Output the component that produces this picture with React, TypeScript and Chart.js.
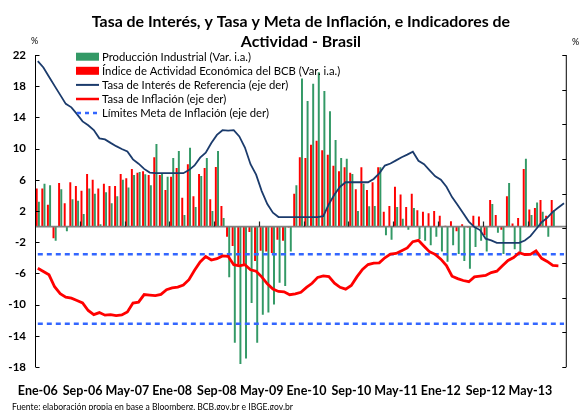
import { useEffect, useRef } from "react";
import { Chart, registerables } from "chart.js";

Chart.register(...registerables);

// ---------- data ----------
const MESES = ["Ene", "Feb", "Mar", "Abr", "May", "Jun", "Jul", "Ago", "Sep", "Oct", "Nov", "Dic"];
const ANIOS = ["06", "07", "08", "09", "10", "11", "12", "13"];
// Ene-06 ... Nov-13 (95 months)
const CATEGORIAS: string[] = ANIOS.flatMap((a) => MESES.map((m) => `${m}-${a}`)).slice(0, 95);

const ETIQUETAS_X = ["Ene-06", "Sep-06", "May-07", "Ene-08", "Sep-08", "May-09", "Ene-10", "Sep-10", "May-11", "Ene-12", "Sep-12", "May-13"];

const TITULO = ["Tasa de Interés, y Tasa y Meta de Inflación, e Indicadores de", "Actividad - Brasil"];
const FUENTE = "Fuente: elaboración propia en base a Bloomberg, BCB.gov.br e IBGE.gov.br";

const LEYENDA = [
  "Producción Industrial (Var. i.a.)",
  "Índice de Actividad Económica del BCB (Var. i.a.)",
  "Tasa de Interés de Referencia (eje der)",
  "Tasa de Inflación (eje der)",
  "Límites Meta de Inflación (eje der)",
];

// Producción Industrial, var. i.a. (%), left axis
const PRODUCCION_INDUSTRIAL: (number | null)[] = [
  3.2, 5.5, 5.3, -1.8, 4.8, -0.6, 3.5, 3.3, 1.6, 4.9, 4.2, 0.3,
  4.4, 3.0, 3.9, 6.0, 5.0, 6.6, 7.0, 6.7, 5.3, 10.6, 6.75, 6.4,
  8.8, 9.7, 1.5, 10.1, 2.5, 6.5, 8.8, 2.0, 9.7, 1.1, -6.5, -14.9,
  -17.6, -16.9, -9.8, -14.9, -11.3, -11.0, -10.0, -7.2, -7.6, -3.2, 5.3, 19.0,
  16.1, 18.3, 19.8, 17.4, 14.8, 11.1, 8.8, 8.7, 6.75, 2.0, 5.5, 2.6,
  2.65, 7.6, -1.1, -1.7, 2.5, 1.0, -0.4, 2.4, -1.6, -1.8, -2.4, -1.3,
  -3.2, -4.5, -2.4, -3.5, -4.4, -5.4, -2.6, -1.8, -3.2, 2.9, -0.8, -3.5,
  5.6, -2.9, -3.3, 8.7, 1.5, 3.1, 1.9, -1.3, 2.1, null, null,
];

// IBC-Br, var. i.a. (%), left axis
const IBC_BR: (number | null)[] = [
  4.9, 4.9, 2.8, -1.5, 5.6, 3.0, 5.7, 5.2, 4.6, 6.75, 6.0, 4.9,
  5.5, 5.2, 5.2, 6.75, 6.2, 7.4, 6.9, 7.1, 6.6, 8.9, 6.6, 4.7,
  6.4, 7.5, 3.7, 8.0, 3.9, 6.75, 7.5, 3.5, 7.65, 2.65, -1.3, -2.5,
  -4.9, -4.8, -0.7, -4.4, -3.1, -3.2, -3.4, -1.7, -1.8, -0.1, 4.2, 8.9,
  8.8, 10.5, 11.0, 9.8, 9.2, 7.8, 7.1, 7.6, 6.9, 4.8, 7.6, 4.7,
  5.7, 7.6, 1.9, 2.65, 5.1, 4.1, 2.5, 4.2, 2.1, 1.9, 1.7, 2.0,
  1.4, 0.1, 0.7, -0.6, 0.3, -0.1, 1.4, 1.3, -1.1, 3.4, 1.5, -0.4,
  3.9, 0.4, 1.1, 7.4, 2.2, 2.4, 3.4, 1.4, 3.4, null, null,
];

// Tasa Selic (%), right axis
const TASA_SELIC: (number | null)[] = [
  17.65, 17.28, 16.75, 16.22, 15.7, 15.18, 14.98, 14.59, 14.17, 13.95, 13.67, 13.19,
  13.13, 12.93, 12.74, 12.58, 12.43, 11.98, 11.73, 11.43, 11.22, 11.18, 11.18, 11.18,
  11.18, 11.18, 11.18, 11.36, 11.63, 12.08, 12.36, 12.92, 13.39, 13.66, 13.64, 13.66,
  13.3, 12.66, 11.7, 11.1, 10.15, 9.4, 8.9, 8.65, 8.65, 8.65, 8.65, 8.65,
  8.65, 8.65, 8.65, 8.7, 9.4, 9.95, 10.4, 10.66, 10.66, 10.66, 10.66, 10.66,
  10.85, 11.17, 11.62, 11.74, 11.92, 12.1, 12.25, 12.42, 11.9, 11.7, 11.35, 11.0,
  10.8, 10.4, 9.8, 9.35, 8.87, 8.39, 8.07, 7.9, 7.4, 7.3, 7.16, 7.16,
  7.16, 7.16, 7.16, 7.3, 7.55, 7.95, 8.35, 8.6, 8.95, 9.2, 9.45,
];

// IPCA var. 12 meses (%), right axis
const INFLACION_IPCA: (number | null)[] = [
  5.7, 5.51, 5.32, 4.63, 4.23, 4.03, 3.97, 3.84, 3.7, 3.26, 3.02, 3.14,
  2.99, 3.02, 2.96, 3.0, 3.18, 3.69, 3.74, 4.18, 4.15, 4.12, 4.19, 4.46,
  4.56, 4.61, 4.73, 5.04, 5.58, 6.06, 6.37, 6.17, 6.25, 6.41, 6.39, 5.9,
  5.84, 5.9, 5.61, 5.53, 5.2, 4.8, 4.5, 4.36, 4.34, 4.17, 4.22, 4.31,
  4.59, 4.83, 5.17, 5.26, 5.22, 4.84, 4.6, 4.49, 4.7, 5.2, 5.63, 5.91,
  5.99, 6.01, 6.3, 6.51, 6.55, 6.71, 6.87, 7.23, 7.31, 6.97, 6.64, 6.5,
  6.22, 5.85, 5.24, 5.1, 4.99, 4.92, 5.2, 5.24, 5.28, 5.45, 5.53, 5.84,
  6.15, 6.31, 6.59, 6.49, 6.5, 6.7, 6.27, 6.09, 5.86, 5.84, null,
];

const META_SUPERIOR = 6.5;
const META_INFERIOR = 2.5;

const EJE_IZQ = { min: -18, max: 22, paso: 4 };
const EJE_DER = { min: 0, max: 18, paso: 2 };

// ---------- styles ----------
const VERDE = "#339966";
const ROJO = "#ff0000";
const AZUL_OSCURO = "#1b3b6c";
const AZUL_META = "#3366ff";
const FONT = "Lato";

const decor = {
  id: "decor",
  afterDatasetDraw(chart: any, args: any) {
    if (args.index !== 1) return;
    const { ctx, chartArea } = chart;
    const y0 = chart.scales.y.getPixelForValue(0);
    ctx.save();
    ctx.strokeStyle = "#808080";
    ctx.lineWidth = 1.7;
    ctx.beginPath();
    ctx.moveTo(chartArea.left, y0);
    ctx.lineTo(chartArea.right, y0);
    ctx.stroke();
    ctx.restore();
  },
  afterDraw(chart: any) {
    const { ctx, chartArea } = chart;
    const ys = chart.scales.y;
    const ys2 = chart.scales.y2;
    const xs = chart.scales.x;
    const L = chartArea.left + 0.5;
    const R = chartArea.right - 0.5;
    ctx.save();
    // axis lines
    ctx.strokeStyle = "#000";
    ctx.lineWidth = 1;
    ctx.beginPath();
    ctx.moveTo(L, chartArea.top);
    ctx.lineTo(L, chartArea.bottom);
    ctx.moveTo(R, chartArea.top);
    ctx.lineTo(R, chartArea.bottom);
    ctx.stroke();
    // inward ticks
    ctx.beginPath();
    ys.ticks.forEach((t: any) => {
      const y = Math.round(ys.getPixelForValue(t.value)) + 0.5;
      ctx.moveTo(L, y);
      ctx.lineTo(L + 4, y);
    });
    ys2.ticks.forEach((t: any) => {
      const y = Math.round(ys2.getPixelForValue(t.value)) + 0.5;
      ctx.moveTo(R, y);
      ctx.lineTo(R - 4, y);
    });
    ctx.stroke();
    // category tick marks at zero line
    const y0 = ys.getPixelForValue(0);
    const half = (xs.getPixelForValue(1) - xs.getPixelForValue(0)) / 2;
    ctx.strokeStyle = "#222";
    ctx.lineWidth = 1.2;
    ctx.beginPath();
    CATEGORIAS.forEach((c, i) => {
      if (i > 0 && ETIQUETAS_X.includes(c)) {
        const x = Math.round(xs.getPixelForValue(i) - half) + 0.5;
        ctx.moveTo(x, y0);
        ctx.lineTo(x, y0 - 5);
      }
    });
    ctx.stroke();

    // title
    ctx.fillStyle = "#000";
    ctx.textAlign = "center";
    ctx.textBaseline = "alphabetic";
    ctx.font = `bold 15.9px ${FONT}`;
    const cx = (chartArea.left + chartArea.right) / 2;
    ctx.fillText(TITULO[0], cx, 26.5);
    ctx.fillText(TITULO[1], cx, 46.5);

    // % labels
    ctx.font = `9px ${FONT}`;
    ctx.fillText("%", 34.5, 44);
    ctx.fillText("%", 575.5, 45);

    // footnote
    ctx.textAlign = "left";
    ctx.font = `8.6px ${FONT}`;
    ctx.fillText(FUENTE, 12, 410);

    // legend
    const lx = 76;
    const lw = 23;
    const y0l = 56.7;
    const dy = 14.1;
    ctx.font = `11.3px ${FONT}`;
    ctx.textBaseline = "middle";
    LEYENDA.forEach((txt, i) => {
      const y = y0l + i * dy;
      if (i === 0 || i === 1) {
        ctx.fillStyle = i === 0 ? VERDE : ROJO;
        ctx.fillRect(lx, y - 4, lw, 8);
      } else {
        ctx.strokeStyle = i === 2 ? AZUL_OSCURO : i === 3 ? ROJO : AZUL_META;
        ctx.lineWidth = i === 2 ? 2 : 2.5;
        ctx.setLineDash(i === 4 ? [4, 4] : []);
        ctx.beginPath();
        ctx.moveTo(lx + (i === 4 ? 1 : 0), y);
        ctx.lineTo(lx + lw, y);
        ctx.stroke();
        ctx.setLineDash([]);
      }
      ctx.fillStyle = "#000";
      ctx.fillText(txt, lx + lw + 3, y + 0.5);
    });
    ctx.restore();
  },
};

export default function App() {
  const ref = useRef<HTMLCanvasElement | null>(null);
  useEffect(() => {
    if (!ref.current) return;
    const first = CATEGORIAS[0];
    const last = CATEGORIAS[CATEGORIAS.length - 1];
    const chart = new Chart(ref.current, {
      type: "bar",
      data: {
        labels: CATEGORIAS,
        datasets: [
          {
            type: "bar",
            label: LEYENDA[0],
            data: PRODUCCION_INDUSTRIAL,
            backgroundColor: VERDE,
            borderWidth: 0,
            yAxisID: "y",
            order: 11,
            categoryPercentage: 0.78,
            barPercentage: 0.9,
          },
          {
            type: "bar",
            label: LEYENDA[1],
            data: IBC_BR,
            backgroundColor: ROJO,
            borderWidth: 0,
            yAxisID: "y",
            order: 10,
            categoryPercentage: 0.78,
            barPercentage: 0.9,
          },
          {
            type: "line",
            label: LEYENDA[2],
            data: TASA_SELIC,
            borderColor: AZUL_OSCURO,
            borderWidth: 1.8,
            pointRadius: 0,
            tension: 0,
            yAxisID: "y2",
            order: 1,
          },
          {
            type: "line",
            label: LEYENDA[3],
            data: INFLACION_IPCA,
            borderColor: ROJO,
            borderWidth: 2.8,
            pointRadius: 0,
            tension: 0,
            yAxisID: "y2",
            order: 0,
          },
          {
            type: "line",
            label: LEYENDA[4],
            data: [
              { x: first, y: META_SUPERIOR },
              { x: last, y: META_SUPERIOR },
            ],
            borderColor: AZUL_META,
            borderWidth: 2.5,
            borderDash: [5, 4],
            pointRadius: 0,
            yAxisID: "y2",
            order: 2,
          },
          {
            type: "line",
            label: LEYENDA[4],
            data: [
              { x: first, y: META_INFERIOR },
              { x: last, y: META_INFERIOR },
            ],
            borderColor: AZUL_META,
            borderWidth: 2.5,
            borderDash: [5, 4],
            pointRadius: 0,
            yAxisID: "y2",
            order: 2,
          },
        ] as any,
      },
      options: {
        animation: false,
        responsive: false,
        devicePixelRatio: 1,
        layout: { padding: { top: 55, left: 0, right: 0, bottom: 0 } },
        plugins: {
          legend: { display: false },
          tooltip: { enabled: false },
          title: { display: false },
        },
        scales: {
          x: {
            type: "category",
            offset: true,
            grid: { display: false, drawTicks: false },
            border: { display: false },
            ticks: {
              autoSkip: false,
              maxRotation: 0,
              minRotation: 0,
              padding: 16,
              color: "#000",
              font: { family: FONT, size: 12.5, weight: "bold" },
              callback: (_v: any, i: number) => {
                const l = CATEGORIAS[i];
                return ETIQUETAS_X.includes(l) ? l : "";
              },
            },
            afterFit: (s: any) => {
              s.height = 43;
            },
          },
          y: {
            position: "left",
            min: EJE_IZQ.min,
            max: EJE_IZQ.max,
            ticks: {
              stepSize: EJE_IZQ.paso,
              padding: 9,
              color: "#000",
              font: { family: FONT, size: 11.5, weight: "bold" },
            },
            grid: { display: false, drawTicks: false },
            border: { display: false },
            afterFit: (s: any) => {
              s.width = 35;
            },
          },
          y2: {
            position: "right",
            min: EJE_DER.min,
            max: EJE_DER.max,
            ticks: { display: false, stepSize: EJE_DER.paso },
            grid: { display: false, drawTicks: false },
            border: { display: false },
            afterFit: (s: any) => {
              s.width = 1;
            },
          },
        },
      } as any,
      plugins: [decor],
    });
    return () => chart.destroy();
  }, []);
  return (
    <div style={{ position: "fixed", left: 0, top: 0, width: 580, height: 410, background: "#fff" }}>
      <canvas ref={ref} width={580} height={410} style={{ display: "block" }} />
    </div>
  );
}
